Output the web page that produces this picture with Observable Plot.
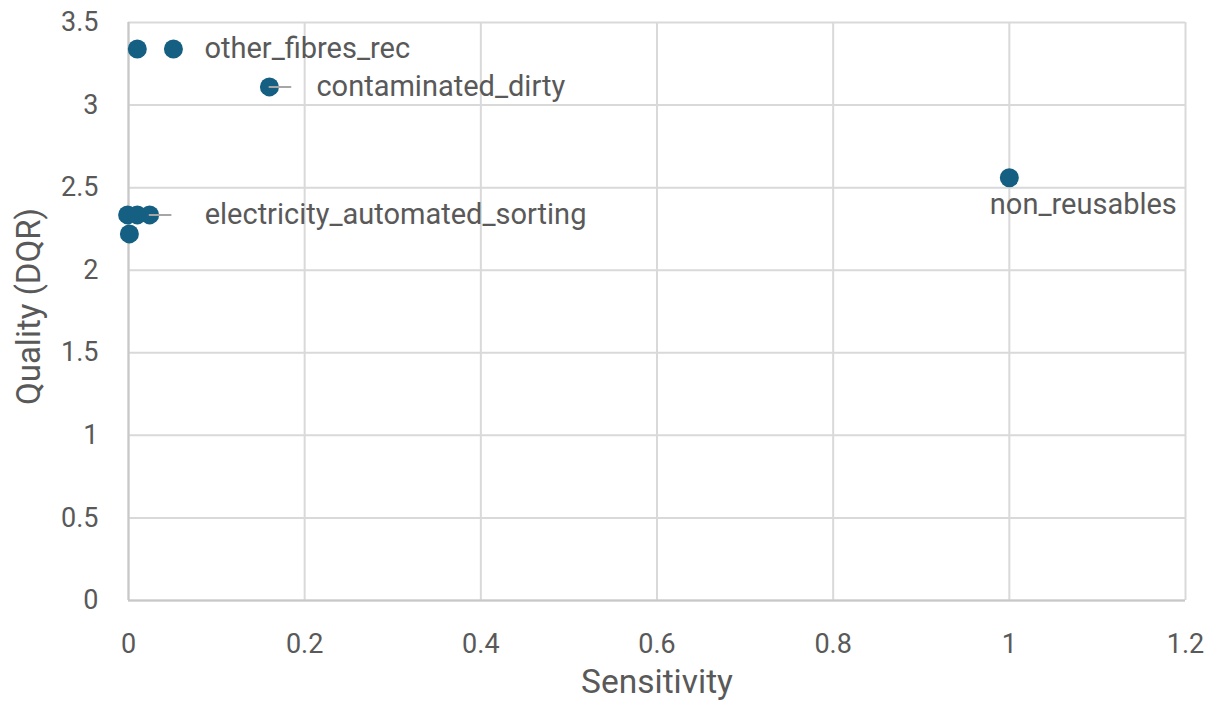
<!DOCTYPE html>
<html>
<head>
<meta charset="utf-8">
<script src="https://cdn.jsdelivr.net/npm/d3@7"></script>
<script src="https://cdn.jsdelivr.net/npm/@observablehq/plot@0.6"></script>
<style>
  html, body { margin: 0; padding: 0; background: #fff; }
  #chart svg { display: block; }
</style>
</head>
<body>
<div id="chart"></div>
<script>
// Data
const names = ["other_fibres_rec_a", "other_fibres_rec", "contaminated_dirty", "electricity_a", "electricity_b", "electricity_automated_sorting", "electricity_low", "non_reusables"];
const sensitivity = [0.010, 0.051, 0.160, -0.001, 0.010, 0.024, 0.001, 1.0];
const quality = [3.34, 3.34, 3.11, 2.335, 2.335, 2.335, 2.22, 2.56];

// Labels shown in the chart (by point name)
const labelNames = ["other_fibres_rec", "contaminated_dirty", "electricity_automated_sorting", "non_reusables"];
const labelTexts = ["other_fibres_rec", "contaminated_dirty", "electricity_automated_sorting", "non_reusables"];
const leaderNames = ["contaminated_dirty", "electricity_automated_sorting"];

const xTicks = [0, 0.2, 0.4, 0.6, 0.8, 1, 1.2];
const yTicks = [0, 0.5, 1, 1.5, 2, 2.5, 3, 3.5];

const points = names.map((n, i) => ({name: n, s: sensitivity[i], q: quality[i]}));
const byName = Object.fromEntries(points.map(p => [p.name, p]));
const labels = labelNames.map((n, i) => ({...byName[n], text: labelTexts[i]}));
const leaders = leaderNames.map(n => byName[n]);

const FONT = "Roboto, 'Liberation Sans', sans-serif";
const TXT = "#595959";
const GRID = "#d9d9d9";
const BLUE = "#156082";

// label placement in pixels (style, not data)
const labelStyle = {
  "other_fibres_rec": {dx: 31, dy: 0, anchor: "start"},
  "contaminated_dirty": {dx: 47, dy: 0, anchor: "start"},
  "electricity_automated_sorting": {dx: 55, dy: 0, anchor: "start"},
  "non_reusables": {dx: 74, dy: 27, anchor: "middle"}
};

const leaderShape = {
  draw(context, l) {
    context.moveTo(0, 0);
    context.lineTo(0, -l);
  }
};

const fmt = d => String(+d.toFixed(1));

const chart = Plot.plot({
  width: 1218,
  height: 713,
  marginLeft: 128,
  marginRight: 33,
  marginTop: 22,
  marginBottom: 113,
  style: {fontFamily: FONT, fontSize: "27px", color: TXT, background: "#fff"},
  x: {domain: [0, 1.2], ticks: xTicks, tickFormat: fmt, label: null},
  y: {domain: [0, 3.5], ticks: yTicks, tickFormat: fmt, label: null},
  marks: [
    Plot.gridX(xTicks, {stroke: GRID, strokeOpacity: 1, strokeWidth: 2}),
    Plot.gridY(yTicks, {stroke: GRID, strokeOpacity: 1, strokeWidth: 2}),
    Plot.ruleX([0], {stroke: "#c8c8c8", strokeWidth: 2}),
    Plot.ruleY([0], {stroke: "#c8c8c8", strokeWidth: 2}),
    Plot.axisX({ticks: xTicks, tickSize: 0, tickPadding: 33, fill: TXT, fontSize: 27, tickFormat: fmt, label: null}),
    Plot.axisY({ticks: yTicks, tickSize: 0, tickPadding: 30, fill: TXT, fontSize: 27, tickFormat: fmt, label: null}),
    Plot.dot(points, {x: "s", y: "q", r: 9.5, fill: BLUE, stroke: "none"}),
    Plot.vector(leaders, {x: "s", y: "q", length: 21, rotate: 90, anchor: "start", shape: leaderShape, stroke: "#a6a6a6", strokeWidth: 2}),
    ...labels.map(l => Plot.text([l], {
      x: "s", y: "q", text: "text",
      dx: labelStyle[l.name].dx, dy: labelStyle[l.name].dy,
      textAnchor: labelStyle[l.name].anchor,
      fill: TXT, fontSize: 29
    })),
    Plot.text(["Sensitivity"], {frameAnchor: "bottom", dy: 92, textAnchor: "middle", fill: TXT, fontSize: 33.5}),
    Plot.text(["Quality (DQR)"], {frameAnchor: "left", dx: -99, dy: -5, rotate: -90, textAnchor: "middle", fill: TXT, fontSize: 33})
  ]
});

document.getElementById("chart").appendChild(chart);
</script>
</body>
</html>
